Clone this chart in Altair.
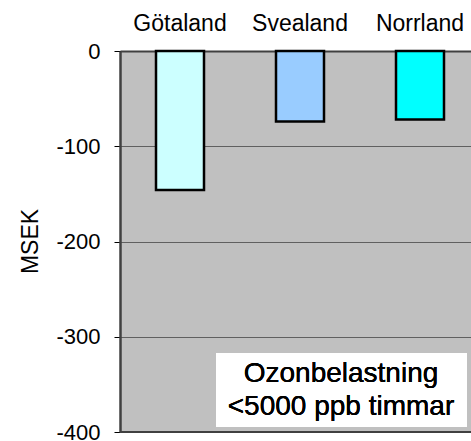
import altair as alt
import pandas as pd

regions = ["Götaland", "Svealand", "Norrland"]
values = [-146, -74, -72]
colors = ["#CCFFFF", "#99CCFF", "#00FFFF"]
y_ticks = [-400, -300, -200, -100, 0]
annotation = ["Ozonbelastning", "<5000 ppb timmar"]
y_title = "MSEK"

df = pd.DataFrame({"region": regions, "value": values, "color": colors})
bounds = pd.DataFrame({"region": regions[:2]})

FONT = "Liberation Sans"

xscale = alt.Scale(domain=regions, range=[0, 360], paddingInner=0.6, paddingOuter=0.3)
yscale = alt.Scale(domain=[-400, 0], nice=False)

xaxis = alt.Axis(orient="top", title=None, labelAngle=0, labelFontSize=23,
                 labelFont=FONT, labelColor="black", ticks=False,
                 labelPadding=16, domainColor="#404040", domainWidth=2)

bars = alt.Chart(df).mark_bar(stroke="black", strokeWidth=2.5).encode(
    x=alt.X("region:N", sort=regions, scale=xscale, axis=xaxis),
    y=alt.Y("value:Q", scale=yscale,
            axis=alt.Axis(values=y_ticks, title=y_title, labelFontSize=22, labelFont=FONT,
                          labelColor="black", tickColor="black", tickSize=6,
                          labelExpr="'' + datum.value",
                          labelBaseline="alphabetic", labelOffset=7,
                          labelPadding=14, domainColor="#404040", domainWidth=2.5,
                          grid=True, gridColor="black", gridDash=[1, 1], gridWidth=1,
                          titleFontSize=23, titleFont=FONT, titleFontWeight="normal",
                          titleColor="black", titleX=-90, titleY=190,
                          titleBaseline="middle", titleAngle=270)),
    color=alt.Color("color:N", scale=None),
)

ticks = alt.Chart(bounds).mark_rule(color="black", strokeWidth=1).encode(
    x=alt.X("region:N", sort=regions, bandPosition=1, scale=xscale, axis=xaxis),
    y=alt.value(0),
    y2=alt.value(6),
)

bottom = alt.Chart(df).mark_rule(color="#404040", strokeWidth=2).encode(
    y=alt.datum(-400, scale=yscale),
)

box = alt.Chart(df).mark_rect(fill="white").encode(
    x=alt.value(96), x2=alt.value(347), y=alt.value(302), y2=alt.value(376)
)

label = alt.Chart(df).mark_text(
    text=annotation, font=FONT, fontSize=28, color="black", align="center",
    baseline="alphabetic", lineHeight=33
).encode(x=alt.value(221), y=alt.value(331))

chart = alt.layer(bars, ticks, bottom, box, label).properties(
    width=351, height=381,
    autosize=alt.AutoSizeParams(type="none"),
    padding={"left": 120, "top": 51, "right": 0, "bottom": 9},
    background="white",
).configure_view(stroke=None, fill="#C0C0C0")

chart.save("out.html", embed_options={"renderer": "svg", "actions": False})
